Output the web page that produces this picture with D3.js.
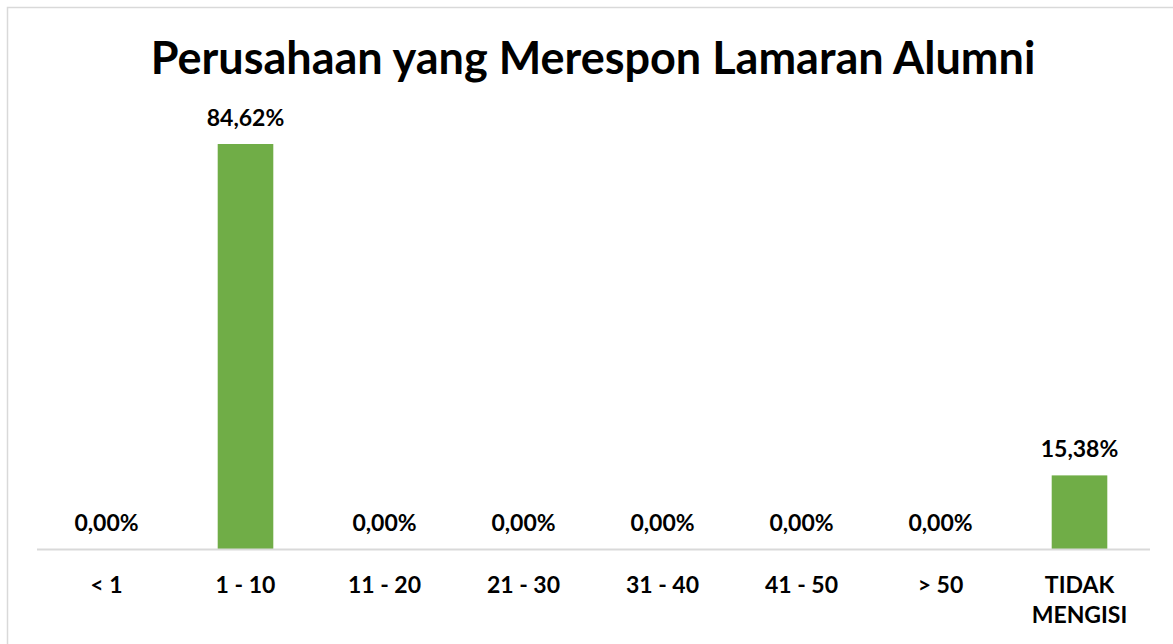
<!DOCTYPE html>
<html>
<head>
<meta charset="utf-8">
<script src="https://cdn.jsdelivr.net/npm/d3@7"></script>
<style>
  body { margin: 0; background: #fff; }
  text { font-family: Lato, "Open Sans", sans-serif; font-weight: bold; fill: #000; }
</style>
</head>
<body>
<div id="chart"></div>
<script>
// data
var categories = ["< 1", "1 - 10", "11 - 20", "21 - 30", "31 - 40", "41 - 50", "> 50", "TIDAK MENGISI"];
var values = [0, 84.62, 0, 0, 0, 0, 0, 15.38];
var valueLabels = ["0,00%", "84,62%", "0,00%", "0,00%", "0,00%", "0,00%", "0,00%", "15,38%"];
var catLines = [["< 1"], ["1 - 10"], ["11 - 20"], ["21 - 30"], ["31 - 40"], ["41 - 50"], ["> 50"], ["TIDAK", "MENGISI"]];
var title = "Perusahaan yang Merespon Lamaran Alumni";

var svgWidth = 1173, svgHeight = 644;
var base = 549;

var svg = d3.select("#chart").append("svg")
  .attr("width", svgWidth)
  .attr("height", svgHeight);

// chart frame (runs off the right and bottom edge)
svg.append("rect")
  .attr("x", 7.5).attr("y", 7.5)
  .attr("width", 1200).attr("height", 700)
  .attr("fill", "none")
  .attr("stroke", "#d9d9d9")
  .attr("stroke-width", 1.5);

svg.append("text")
  .attr("x", 593).attr("y", 74)
  .attr("text-anchor", "middle")
  .style("font-size", "45px")
  .text(title);

var xScale = d3.scaleBand()
  .domain(categories)
  .range([37, 1149])
  .paddingInner(0.6)
  .paddingOuter(0.3);

var yScale = d3.scaleLinear()
  .domain([0, 100])
  .range([base, base - 478.6]);

svg.selectAll("rect.bar")
  .data(values)
  .enter()
  .append("rect")
  .attr("class", "bar")
  .attr("x", function(d, i) { return xScale(categories[i]); })
  .attr("y", function(d) { return yScale(d); })
  .attr("width", xScale.bandwidth())
  .attr("height", function(d) { return base - yScale(d); })
  .attr("fill", "#70ad47");

svg.selectAll("text.val")
  .data(values)
  .enter()
  .append("text")
  .attr("class", "val")
  .attr("x", function(d, i) { return xScale(categories[i]) + xScale.bandwidth() / 2; })
  .attr("y", function(d) { return yScale(d) - 18; })
  .attr("text-anchor", "middle")
  .style("font-size", "23px")
  .text(function(d, i) { return valueLabels[i]; });

// x axis line
svg.append("line")
  .attr("x1", 37).attr("x2", 1150)
  .attr("y1", base + 0.5).attr("y2", base + 0.5)
  .attr("stroke", "#d9d9d9")
  .attr("stroke-width", 2);

var cats = svg.selectAll("text.cat")
  .data(catLines)
  .enter()
  .append("text")
  .attr("class", "cat")
  .attr("text-anchor", "middle")
  .style("font-size", "23px")
  .attr("x", function(d, i) { return xScale(categories[i]) + xScale.bandwidth() / 2; })
  .attr("y", 593);

cats.selectAll("tspan")
  .data(function(d) { return d; })
  .enter()
  .append("tspan")
  .attr("x", function() { return d3.select(this.parentNode).attr("x"); })
  .attr("dy", function(d, i) { return i === 0 ? 0 : 30; })
  .text(function(d) { return d; });
</script>
</body>
</html>
